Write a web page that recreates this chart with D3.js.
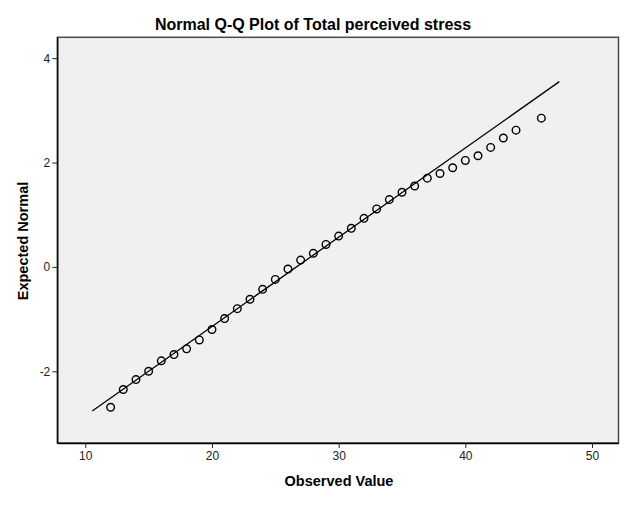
<!DOCTYPE html>
<html>
<head>
<meta charset="utf-8">
<script src="https://cdn.jsdelivr.net/npm/d3@7"></script>
<style>
  html, body { margin: 0; padding: 0; background: #ffffff; }
  svg { display: block; }
</style>
</head>
<body>
<script>
// ---- Data ----
const observed = [12,13,14,15,16,17,18,19,20,21,22,23,24,25,26,27,28,29,30,31,32,33,34,35,36,37,38,39,40,41,42,43,44,46];
const expected = [-2.69,-2.35,-2.16,-2.00,-1.80,-1.68,-1.57,-1.40,-1.20,-0.99,-0.80,-0.62,-0.43,-0.24,-0.04,0.13,0.26,0.43,0.59,0.74,0.93,1.11,1.29,1.43,1.55,1.70,1.79,1.90,2.04,2.13,2.29,2.47,2.62,2.85];
const lineX = [10.55, 47.42];
const lineY = [-2.76, 3.55];
const xTicks = [10, 20, 30, 40, 50];
const yTicks = [-2, 0, 2, 4];
const titleText = "Normal Q-Q Plot of Total perceived stress";
const xTitle = "Observed Value";
const yTitle = "Expected Normal";

const W = 640, H = 513;
const plot = { left: 57.3, right: 618.5, top: 37.3, bottom: 443 };

const svg = d3.select("body").append("svg").attr("width", W).attr("height", H);

const x = d3.scaleLinear().domain([7.79, 52.09]).range([plot.left, plot.right]);
const y = d3.scaleLinear().domain([-3.375, 4.40]).range([plot.bottom, plot.top]);

// plot background
svg.append("rect")
  .attr("x", plot.left).attr("y", plot.top)
  .attr("width", plot.right - plot.left).attr("height", plot.bottom - plot.top)
  .attr("fill", "#f0f0f0").attr("stroke", "#4a4a4a").attr("stroke-width", 1.5);

// axes
const font = "'Liberation Sans', Arial, sans-serif";
const fmt = d => String(d);
const xAxis = svg.append("g")
  .attr("transform", `translate(0,${plot.bottom})`)
  .call(d3.axisBottom(x).tickValues(xTicks).tickSizeInner(5).tickSizeOuter(0).tickPadding(3).tickFormat(fmt));
const yAxis = svg.append("g")
  .attr("transform", `translate(${plot.left},0)`)
  .call(d3.axisLeft(y).tickValues(yTicks).tickSizeInner(5).tickSizeOuter(0).tickPadding(2).tickFormat(fmt));
[xAxis, yAxis].forEach(g => {
  g.select(".domain").attr("stroke", "#000").attr("stroke-width", 1.3);
  g.selectAll(".tick line").attr("stroke", "#222");
  g.selectAll(".tick text").attr("fill", "#222").style("font-family", font).style("font-size", "12px");
});

// reference line
svg.append("line")
  .attr("x1", x(lineX[0])).attr("y1", y(lineY[0]))
  .attr("x2", x(lineX[1])).attr("y2", y(lineY[1]))
  .attr("stroke", "#000").attr("stroke-width", 1.3);

// points
svg.append("g").selectAll("circle")
  .data(observed.map((v, i) => ({ x: v, y: expected[i] })))
  .join("circle")
  .attr("cx", d => x(d.x)).attr("cy", d => y(d.y))
  .attr("r", 3.8)
  .attr("fill", "none").attr("stroke", "#000").attr("stroke-width", 1.4);

// titles
svg.append("text")
  .attr("x", 313).attr("y", 30)
  .attr("text-anchor", "middle")
  .style("font-family", font).style("font-size", "16px").style("font-weight", "bold")
  .text(titleText);

svg.append("text")
  .attr("x", 339).attr("y", 486)
  .attr("text-anchor", "middle")
  .style("font-family", font).style("font-size", "14.5px").style("font-weight", "bold")
  .text(xTitle);

svg.append("text")
  .attr("transform", `translate(28,241) rotate(-90)`)
  .attr("text-anchor", "middle")
  .style("font-family", font).style("font-size", "14.5px").style("font-weight", "bold")
  .text(yTitle);
</script>
</body>
</html>
